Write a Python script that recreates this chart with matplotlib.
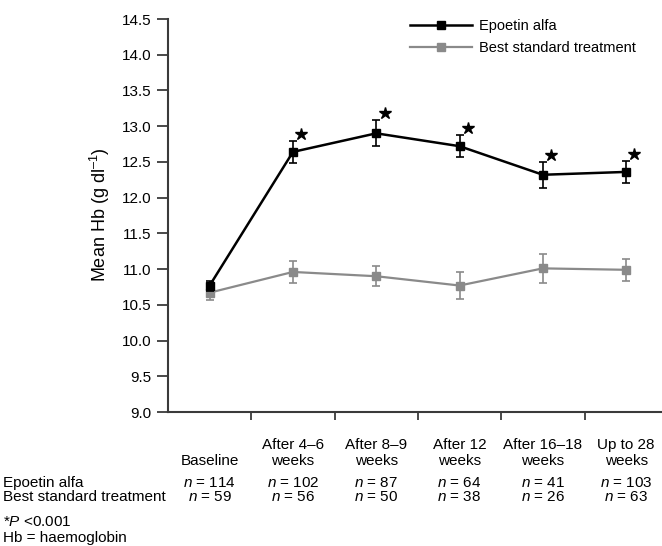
import matplotlib
matplotlib.use("Agg")
import matplotlib.pyplot as plt
import matplotlib.transforms as mtransforms
from matplotlib.lines import Line2D
import numpy as np

plt.rcParams['font.family'] = ['Liberation Sans', 'DejaVu Sans']
plt.rcParams['mathtext.fontset'] = 'custom'
plt.rcParams['mathtext.rm'] = 'Liberation Sans'
plt.rcParams['mathtext.it'] = 'Liberation Sans:italic'
plt.rcParams['mathtext.bf'] = 'Liberation Sans:bold'

categories = ["\nBaseline", "After 4\u20136\nweeks", "After 8\u20139\nweeks",
              "After 12\nweeks", "After 16\u201318\nweeks", "Up to 28\nweeks"]
epo_mean = [10.77, 12.64, 12.90, 12.72, 12.32, 12.36]
epo_err = [0.07, 0.15, 0.18, 0.15, 0.18, 0.15]
bst_mean = [10.67, 10.96, 10.90, 10.77, 11.01, 10.99]
bst_err = [0.10, 0.15, 0.14, 0.19, 0.20, 0.15]
significant = [False, True, True, True, True, True]
epo_n = [114, 102, 87, 64, 41, 103]
bst_n = [59, 56, 50, 38, 26, 63]
yticks = [9.0, 9.5, 10.0, 10.5, 11.0, 11.5, 12.0, 12.5, 13.0, 13.5, 14.0, 14.5]

W, H = 662, 546
fig = plt.figure(figsize=(W / 100, H / 100), dpi=100)
ax = fig.add_axes([168 / W, 134 / H, (W - 168) / W, (412 - 19) / H])

x = np.arange(len(categories))
axis_col = '#3a3a3a'
grey = '#8a8a8a'
ax.errorbar(x, bst_mean, yerr=bst_err, color=grey, marker='s', markersize=6,
            linewidth=1.6, elinewidth=1.2, capsize=3, capthick=1.2, zorder=2)
ax.errorbar(x, epo_mean, yerr=epo_err, color='black', marker='s', markersize=6,
            linewidth=1.8, elinewidth=1.2, capsize=3, capthick=1.2, zorder=3)

sx = [xi + 0.1 for xi, s in zip(x, significant) if s]
sy = [m + e + 0.1 for m, e, s in zip(epo_mean, epo_err, significant) if s]
ax.plot(sx, sy, linestyle='none', marker='*', markersize=9, color='black', zorder=4)

ax.set_ylim(9.0, 14.5)
ax.set_xlim(-0.5, -0.5 + (W - 168) / 83.3)
ax.set_yticks(yticks)
ax.set_yticklabels([f"{v:.1f}" for v in yticks], fontsize=11)
ax.set_xticks(x[:-1] + 0.5)
ax.set_xticklabels([])
ax.set_xticks(x, minor=True)
ax.set_xticklabels(categories, minor=True, fontsize=11, linespacing=1.15)
ax.tick_params(axis='x', which='minor', length=0, pad=19)
ax.tick_params(axis='x', which='major', direction='out', length=6, width=1.3, color=axis_col)
ax.tick_params(axis='y', direction='out', length=8, width=1.3, color=axis_col, pad=4)

for sp in ['top', 'right']:
    ax.spines[sp].set_visible(False)
for sp in ['left', 'bottom']:
    ax.spines[sp].set_color(axis_col)
    ax.spines[sp].set_linewidth(1.5)

fig.text(100 / W, 1 - 215 / H, 'Mean Hb (g dl$^{\u20131}$)', rotation=90,
         ha='center', va='center', fontsize=13)

handles = [Line2D([], [], color='black', marker='s', markersize=6, linewidth=1.8),
           Line2D([], [], color=grey, marker='s', markersize=6, linewidth=1.6)]
leg = ax.legend(handles, ['Epoetin alfa', 'Best standard treatment'], loc='upper left',
                bbox_to_anchor=(403 / W, 1 - 12 / H), bbox_transform=fig.transFigure,
                frameon=False, fontsize=10.5, handlelength=4.2, handletextpad=0.5,
                labelspacing=0.55, borderpad=0)

trans = mtransforms.blended_transform_factory(ax.transData, fig.transFigure)
for xi, ne, nb in zip(x, epo_n, bst_n):
    ax.text(xi, 1 - 483 / H, f"$n$ = {ne}", transform=trans, ha='center',
            va='center', fontsize=11)
    ax.text(xi, 1 - 497 / H, f"$n$ = {nb}", transform=trans, ha='center',
            va='center', fontsize=11)

fig.text(3 / W, 1 - 483 / H, 'Epoetin alfa', ha='left', va='center', fontsize=11)
fig.text(3 / W, 1 - 497 / H, 'Best standard treatment', ha='left', va='center', fontsize=11)
fig.text(3 / W, 1 - 522 / H, '*$P$ <0.001', ha='left', va='center', fontsize=11)
fig.text(3 / W, 1 - 538 / H, 'Hb = haemoglobin', ha='left', va='center', fontsize=11)

fig.savefig('out.png', dpi=100)
